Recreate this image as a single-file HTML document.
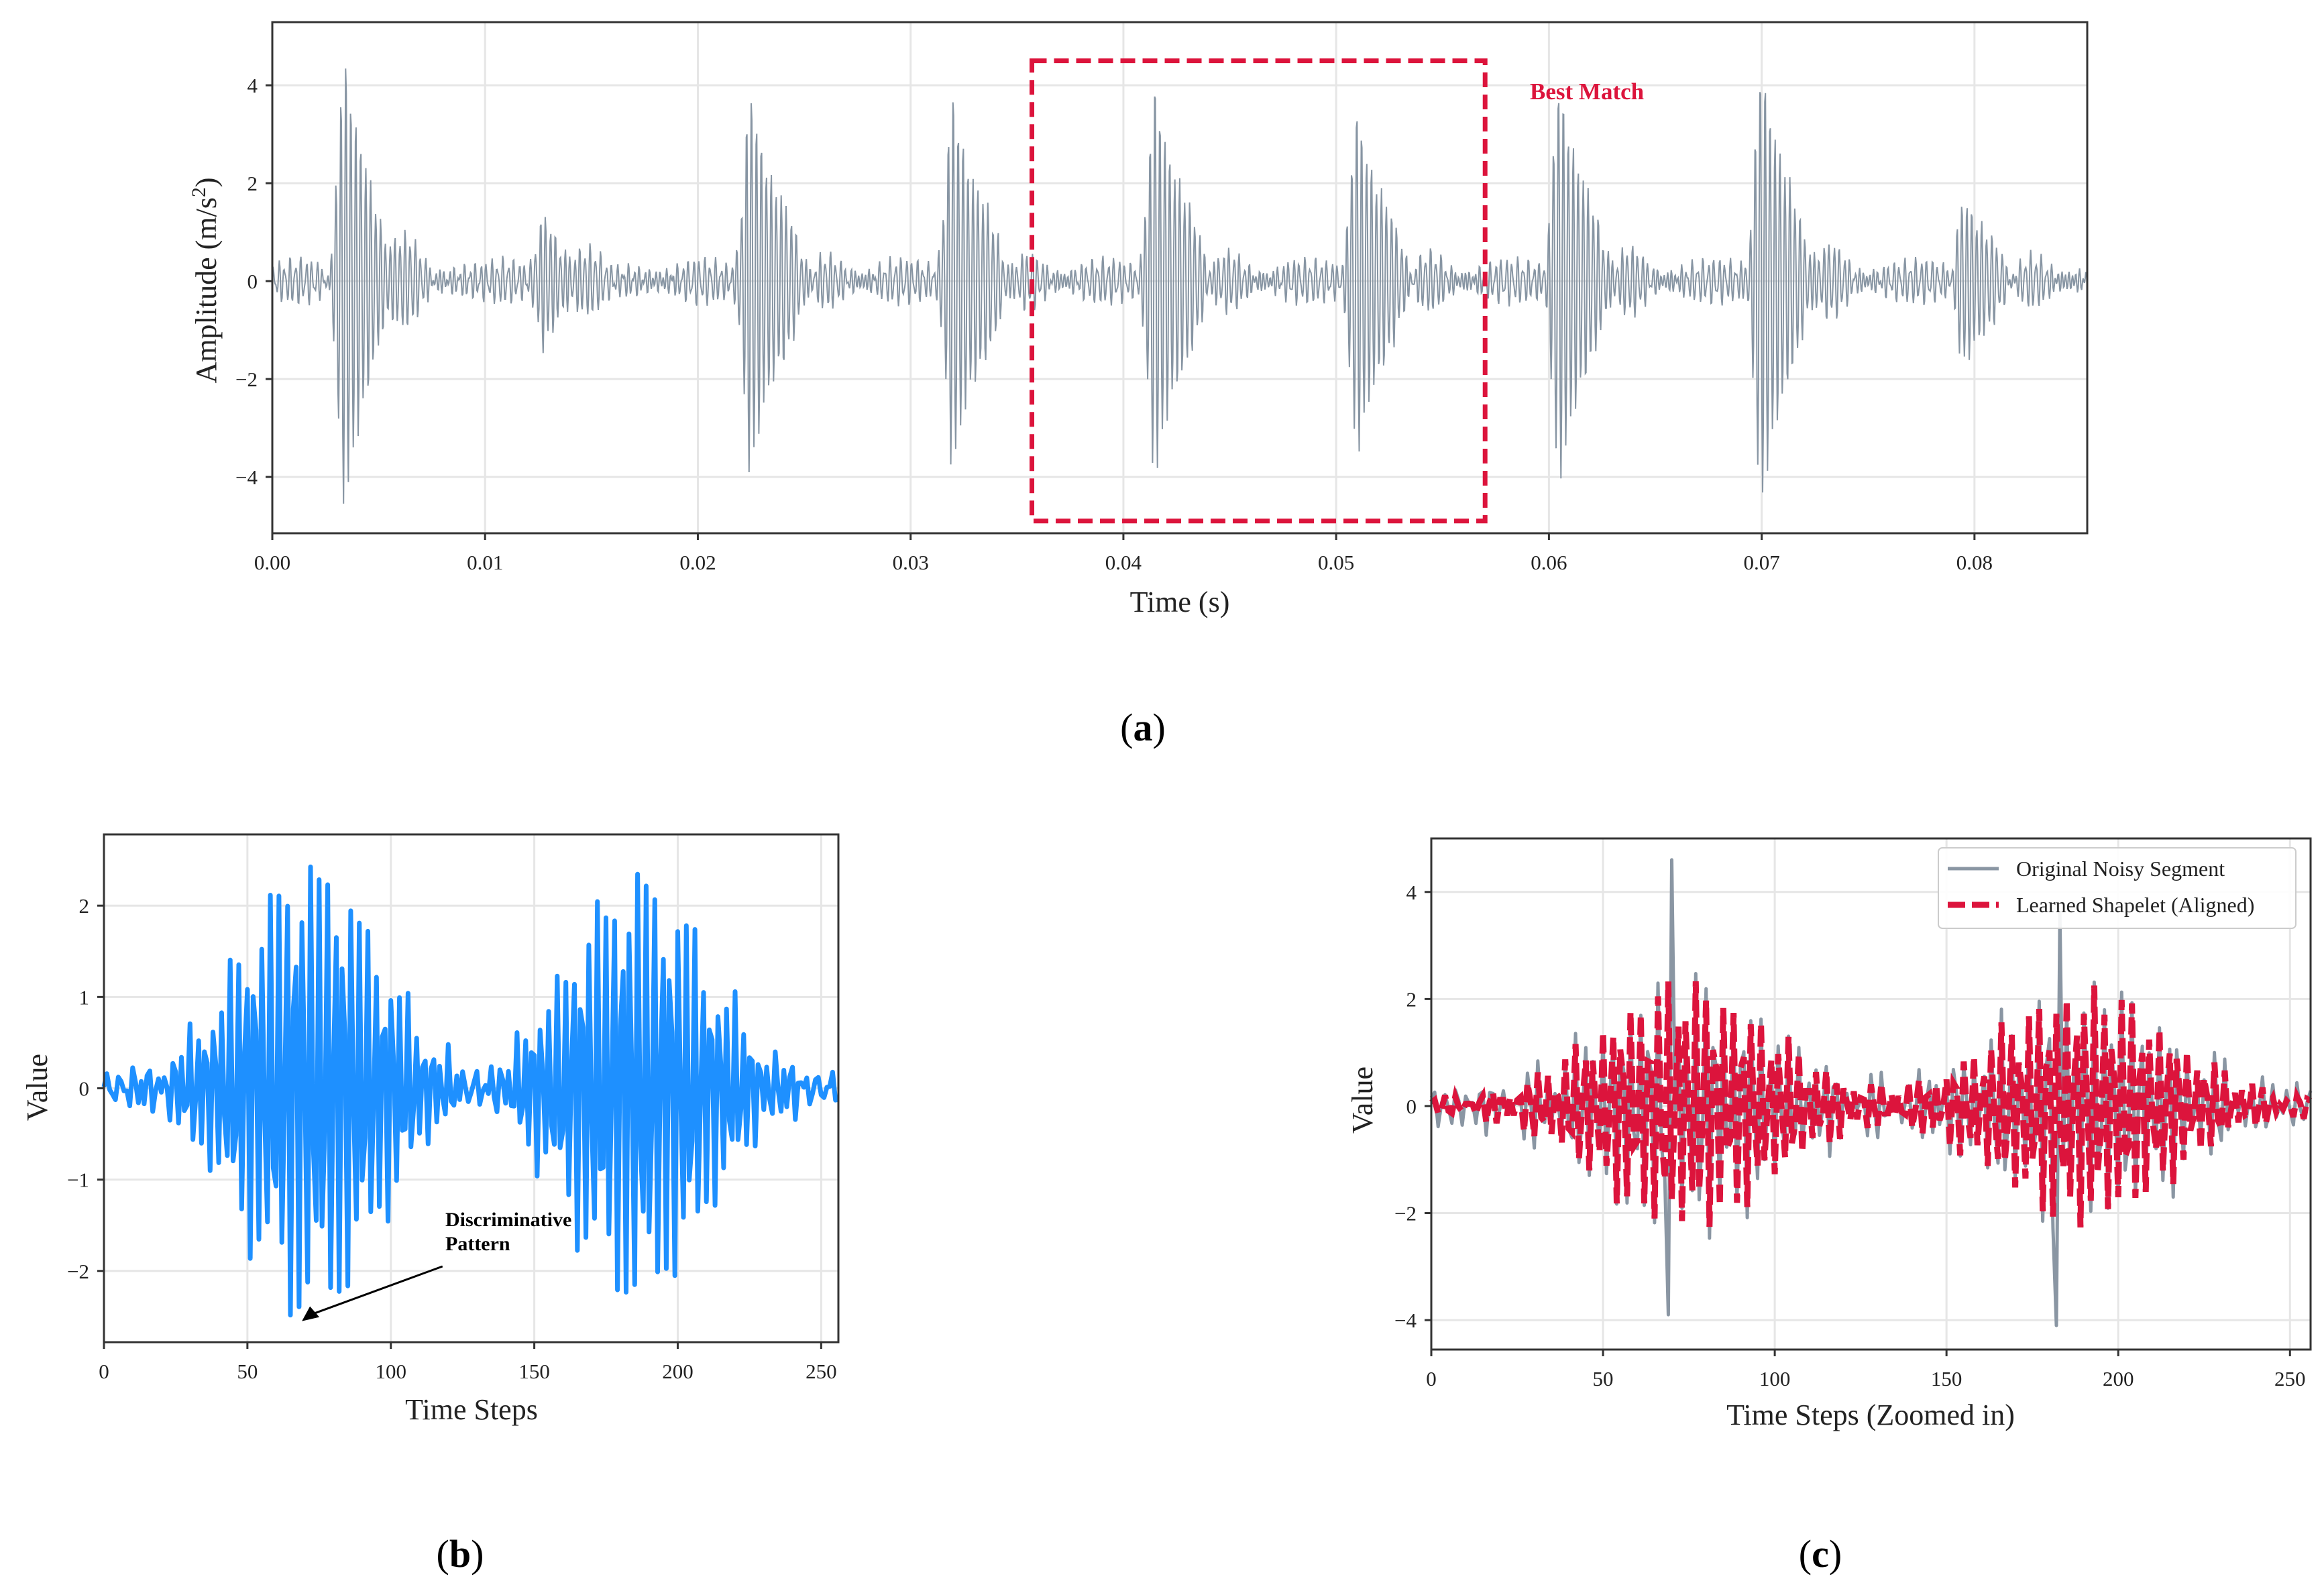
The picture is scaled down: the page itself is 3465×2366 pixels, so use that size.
<!DOCTYPE html>
<html><head><meta charset="utf-8">
<style>
html,body{margin:0;padding:0;background:#fff;}
svg{display:block;font-family:"Liberation Serif",serif;}
</style></head>
<body>
<svg id="fig" width="3465" height="2366" viewBox="0 0 3465 2366" xmlns="http://www.w3.org/2000/svg"></svg>
<script>
// ---------- Data ----------
// Panel (a): burst events
const burstTimes = [0.0034, 0.0128, 0.0225, 0.0320, 0.0415, 0.0510, 0.0605, 0.0700, 0.0795];
const burstAmps  = [4.6, 1.3, 4.0, 3.9, 4.1, 3.6, 4.2, 4.6, 1.8];
const aXTicks = [0, 0.01, 0.02, 0.03, 0.04, 0.05, 0.06, 0.07, 0.08];
const aXTickLabels = ["0.00","0.01","0.02","0.03","0.04","0.05","0.06","0.07","0.08"];
const aYTicks = [-4, -2, 0, 2, 4];
const matchWindow = [0.0357, 0.0570];
const matchRange = [-4.9, 4.5];
// Panel (b): envelope bursts (time step, amplitude)
const bCenters = [72, 186];
const bAmps = [2.5, 2.35];
const bXTicks = [0, 50, 100, 150, 200, 250];
const bYTicks = [-2, -1, 0, 1, 2];
const arrowFrom = [118, -1.95];
const arrowTo = [69, -2.55];
// Panel (c)
const cCenters = [74, 190];
const cAmps = [2.3, 2.2];
const cSpikeSteps = [70, 183];
const cSpikeUp = [4.6, 3.6];
const cSpikeDown = [-3.9, -4.1];
const cXTicks = [0, 50, 100, 150, 200, 250];
const cYTicks = [-4, -2, 0, 2, 4];

const NS = "http://www.w3.org/2000/svg";
const svg = document.getElementById('fig');
function el(tag, attrs, parent, text){
  const e = document.createElementNS(NS, tag);
  for (const k in attrs) e.setAttribute(k, attrs[k]);
  if (text !== undefined) e.textContent = text;
  (parent||svg).appendChild(e);
  return e;
}
function scale(d0,d1,r0,r1){return v=>r0+(v-d0)/(d1-d0)*(r1-r0);}

function axes(g, X, Y, box, xt, xl, yt){
  xt.forEach(v=>{const l=el('line',{x1:X(v),x2:X(v),y1:box.t,y2:box.b,stroke:'#e6e6e6','stroke-width':3},g);
     });
  yt.forEach(v=>{const l=el('line',{x1:box.l,x2:box.r,y1:Y(v),y2:Y(v),stroke:'#e6e6e6','stroke-width':3},g);
     });
}
function frame(g, box, xt, xl, yt, X, Y, fs){
  const r=el('rect',{x:box.l,y:box.t,width:box.r-box.l,height:box.b-box.t,fill:'none',stroke:'#333','stroke-width':3},g);
   
  xt.forEach((v,i)=>{
    const t=el('line',{x1:X(v),x2:X(v),y1:box.b,y2:box.b+10,stroke:'#333','stroke-width':3},g);
     
    const tx=el('text',{x:X(v),y:box.b+54,'font-size':fs,'text-anchor':'middle',fill:'#222'},g,xl[i]);
     
  });
  yt.forEach(v=>{
    const t=el('line',{x1:box.l-10,x2:box.l,y1:Y(v),y2:Y(v),stroke:'#333','stroke-width':3},g);
     
    const tx=el('text',{x:box.l-22,y:Y(v)+11,'font-size':fs,'text-anchor':'end',fill:'#222'},g,v<0?'\u2212'+(-v):String(v));
     
  });
}
function pathFrom(xs, ys, X, Y){
  let d='';
  for(let i=0;i<xs.length;i++) d+=(i?'L':'M')+X(xs[i]).toFixed(1)+' '+Y(ys[i]).toFixed(1);
  return d;
}

// ---------- Panel (a) ----------
(function(){
  const g=el('g',{});  
  const box={l:406,r:3112,t:33,b:795};
  const X=scale(0,0.0853,box.l,box.r), Y=scale(-5.15,5.29,box.b,box.t);
  axes(g,X,Y,box,aXTicks,aXTickLabels,aYTicks);
  const xs=[],ys=[];
  const N=2600;
  for(let i=0;i<=N;i++){
    const t=0.0853*i/N;
    let v=0.38*Math.sin(2*Math.PI*3900*t)*(0.6+0.4*Math.sin(2*Math.PI*210*t))+0.16*Math.sin(2*Math.PI*6100*t+1);
    burstTimes.forEach((t0,k)=>{
      const dt=t-t0;
      const env = dt<0 ? Math.exp(-Math.pow(dt/0.00045,2)) : Math.exp(-dt/0.0014);
      v+=burstAmps[k]*env*Math.sin(2*Math.PI*4300*dt+0.5*k);
    });
    xs.push(t); ys.push(v);
  }
  const p=el('path',{d:pathFrom(xs,ys,X,Y),fill:'none',stroke:'#8795a3','stroke-width':2},g);
   
  frame(g,box,aXTicks,aXTickLabels,aYTicks,X,Y,31);
  const r=el('rect',{x:X(matchWindow[0]),y:Y(matchRange[1]),width:X(matchWindow[1])-X(matchWindow[0]),height:Y(matchRange[0])-Y(matchRange[1]),fill:'none',stroke:'#dc143c','stroke-width':7,'stroke-dasharray':'22 11'},g);
   
  const bm=el('text',{x:2281,y:148,'font-size':35,'font-weight':'bold',fill:'#dc143c'},g,'Best Match');
   
  const xl=el('text',{x:1759,y:912,'font-size':44,'text-anchor':'middle',fill:'#222'},g,'Time (s)');
   
  const yl=el('text',{x:0,y:0,'font-size':44,'text-anchor':'middle',fill:'#222',transform:'translate(322,418) rotate(-90)'},g);
  yl.innerHTML='Amplitude (m/s<tspan font-size="30" dy="-16">2</tspan><tspan dy="16">)</tspan>';
   
  const c=el('text',{x:1704,y:1104,'font-size':58,'text-anchor':'middle',fill:'#000'},g);
  c.innerHTML='(<tspan font-weight="bold">a</tspan>)';
   
})();

// ---------- Panel (b) ----------
(function(){
  const g=el('g',{});  
  const box={l:155,r:1250,t:1244,b:2001};
  const X=scale(0,256,box.l,box.r), Y=scale(-2.78,2.78,box.b,box.t);
  axes(g,X,Y,box,bXTicks,bXTicks.map(String),bYTicks);
  const xs=[],ys=[];
  for(let s=0;s<=256;s++){
    let v=0.12*Math.sin(2*Math.PI*0.21*s+0.3)+0.08*Math.sin(2*Math.PI*0.41*s);
    bCenters.forEach((c,k)=>{v+=bAmps[k]*Math.exp(-Math.pow((s-c)/34,2))*Math.sin(2*Math.PI*0.355*(s-c)+1.2);});
    xs.push(s); ys.push(v);
  }
  const p=el('path',{d:pathFrom(xs,ys,X,Y),fill:'none',stroke:'#1e90ff','stroke-width':7,'stroke-linejoin':'round'},g);
   
  frame(g,box,bXTicks,bXTicks.map(String),bYTicks,X,Y,31);
  const a=el('line',{x1:X(arrowFrom[0]),y1:Y(arrowFrom[1]),x2:X(arrowTo[0])+14,y2:Y(arrowTo[1])-10,stroke:'#000','stroke-width':3},g);
   
  const ax=X(arrowTo[0]), ay=Y(arrowTo[1]);
  const h=el('polygon',{points:`${ax},${ay} ${ax+26},${ay-6} ${ax+12},${ay-22}`,fill:'#000'},g);
   
  const t=el('text',{x:664,y:1828,'font-size':30,'font-weight':'bold',fill:'#000'},g);
  t.innerHTML='<tspan x="664">Discriminative</tspan><tspan x="664" dy="36">Pattern</tspan>';
   
  const xl=el('text',{x:703,y:2116,'font-size':44,'text-anchor':'middle',fill:'#222'},g,'Time Steps');
   
  const yl=el('text',{x:0,y:0,'font-size':44,'text-anchor':'middle',fill:'#222',transform:'translate(70,1621) rotate(-90)'},g,'Value');
   
  const c=el('text',{x:686,y:2336,'font-size':58,'text-anchor':'middle',fill:'#000'},g);
  c.innerHTML='(<tspan font-weight="bold">b</tspan>)';
   
})();

// ---------- Panel (c) ----------
(function(){
  const g=el('g',{});  
  const box={l:2134,r:3445,t:1250,b:2012};
  const X=scale(0,256,box.l,box.r), Y=scale(-4.55,5.0,box.b,box.t);
  axes(g,X,Y,box,cXTicks,cXTicks.map(String),cYTicks);
  const xs=[],ys=[],ys2=[];
  for(let s=0;s<=256;s++){
    let sh=0;
    cCenters.forEach((c,k)=>{sh+=cAmps[k]*Math.exp(-Math.pow((s-c)/36,2))*Math.sin(2*Math.PI*0.37*(s-c)+0.8);});
    let v=sh+0.3*Math.sin(2*Math.PI*0.29*s+0.7)+0.14*Math.sin(2*Math.PI*0.43*s);
    cSpikeSteps.forEach((c,k)=>{ if(s===c) v=cSpikeUp[k]; if(s===c-1) v=cSpikeDown[k]; });
    xs.push(s); ys.push(v); ys2.push(sh+0.15*Math.sin(2*Math.PI*0.29*s+0.7));
  }
  const p=el('path',{d:pathFrom(xs,ys,X,Y),fill:'none',stroke:'#8a96a3','stroke-width':5,'stroke-linejoin':'round'},g);
   
  const p2=el('path',{d:pathFrom(xs,ys2,X,Y),fill:'none',stroke:'#dc143c','stroke-width':9,'stroke-dasharray':'26 10'},g);
   
  frame(g,box,cXTicks,cXTicks.map(String),cYTicks,X,Y,31);
  const lg=el('g',{},g);  
  const lb=el('rect',{x:2890,y:1264,width:533,height:120,rx:6,fill:'#fff','fill-opacity':0.9,stroke:'#ccc','stroke-width':2},lg);
   
  const l1=el('line',{x1:2904,x2:2980,y1:1295,y2:1295,stroke:'#8a96a3','stroke-width':5},lg);
   
  const t1=el('text',{x:3006,y:1306,'font-size':32,fill:'#222'},lg,'Original Noisy Segment');
   
  const l2=el('line',{x1:2904,x2:2980,y1:1349,y2:1349,stroke:'#dc143c','stroke-width':9,'stroke-dasharray':'26 10'},lg);
   
  const t2=el('text',{x:3006,y:1360,'font-size':32,fill:'#222'},lg,'Learned Shapelet (Aligned)');
   
  const xl=el('text',{x:2789,y:2124,'font-size':44,'text-anchor':'middle',fill:'#222'},g,'Time Steps (Zoomed in)');
   
  const yl=el('text',{x:0,y:0,'font-size':44,'text-anchor':'middle',fill:'#222',transform:'translate(2046,1640) rotate(-90)'},g,'Value');
   
  const c=el('text',{x:2714,y:2336,'font-size':58,'text-anchor':'middle',fill:'#000'},g);
  c.innerHTML='(<tspan font-weight="bold">c</tspan>)';
   
})();
</script>
</body></html>
